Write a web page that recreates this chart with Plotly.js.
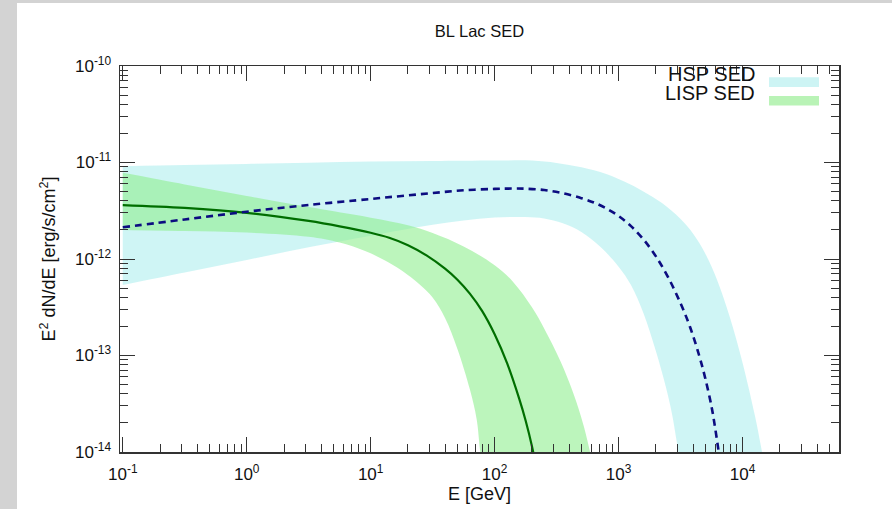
<!DOCTYPE html>
<html>
<head>
<meta charset="utf-8">
<script src="https://cdn.plot.ly/plotly-3.0.1.min.js"></script>
<style>
html, body { margin:0; padding:0; width:892px; height:509px; overflow:hidden; background:#d3d3d3; }
#chart { position:absolute; left:17px; top:3px; width:875px; height:506px; background:#ffffff; }
</style>
</head>
<body>
<div id="chart"></div>
<script>
// ---- Data (E in GeV, E^2 dN/dE in erg/s/cm^2) ----
const hspE   = [0.1, 0.316, 1, 3.16, 10, 17.8, 31.6, 56.2, 100, 141, 178, 251, 355, 501, 631, 794, 1000, 1259, 1585, 1995, 2512, 3162, 3758, 4467, 5012, 5623, 5957, 6310, 6457, 6531];
const hspSED = [2.13e-12, 2.57e-12, 3.09e-12, 3.63e-12, 4.19e-12, 4.50e-12, 4.83e-12, 5.15e-12, 5.33e-12, 5.37e-12, 5.35e-12, 5.19e-12, 4.81e-12, 4.27e-12, 3.85e-12, 3.35e-12, 2.79e-12, 2.19e-12, 1.60e-12, 1.07e-12, 6.46e-13, 3.47e-13, 2.0e-13, 1.0e-13, 5.75e-14, 2.95e-14, 1.91e-14, 1.17e-14, 9.5e-15, 8.3e-15];

const hspUpE = [0.1, 0.316, 1, 3.16, 10, 31.6, 100, 200, 316, 501, 794, 1122, 1585, 2239, 3162, 3981, 5012, 6310, 7943, 10000, 12589, 14125, 14454, 14800];
const hspUp  = [9.16e-12, 9.40e-12, 9.66e-12, 9.93e-12, 1.023e-11, 1.035e-11, 1.047e-11, 1.047e-11, 9.89e-12, 8.91e-12, 7.59e-12, 6.31e-12, 5.01e-12, 3.80e-12, 2.60e-12, 1.84e-12, 1.135e-12, 5.82e-13, 2.43e-13, 8.41e-14, 2.37e-14, 1.12e-14, 9.5e-15, 8e-15];

const hspLoE = [0.1, 0.316, 1, 3.16, 10, 17.8, 31.6, 56.2, 100, 178, 251, 355, 501, 708, 1000, 1259, 1585, 1995, 2399, 2692, 2951, 3090];
const hspLo  = [5.37e-13, 7.24e-13, 9.77e-13, 1.32e-12, 1.74e-12, 2.0e-12, 2.26e-12, 2.51e-12, 2.69e-12, 2.72e-12, 2.63e-12, 2.34e-12, 1.91e-12, 1.35e-12, 8.32e-13, 5.37e-13, 2.75e-13, 1.12e-13, 4.79e-14, 2.51e-14, 1.26e-14, 8.7e-15];

const lispE   = [0.1, 0.316, 1, 3.16, 5.62, 10, 14.1, 20, 28.2, 39.8, 50.1, 63.1, 79.4, 100, 126, 158, 178, 200, 209];
const lispSED = [3.62e-12, 3.38e-12, 3.01e-12, 2.48e-12, 2.18e-12, 1.87e-12, 1.66e-12, 1.39e-12, 1.09e-12, 7.94e-13, 6.10e-13, 4.37e-13, 2.88e-13, 1.66e-13, 8.32e-14, 3.55e-14, 2.11e-14, 1.15e-14, 8.7e-15];

const lispUpE = [0.1, 0.316, 1, 3.16, 10, 20, 31.6, 56.2, 100, 141, 200, 251, 339, 432, 519, 589, 610];
const lispUp  = [7.82e-12, 5.93e-12, 4.50e-12, 3.45e-12, 2.68e-12, 2.24e-12, 1.86e-12, 1.35e-12, 8.61e-13, 5.79e-13, 3.16e-13, 1.91e-13, 8.75e-14, 4.04e-14, 1.93e-14, 1.0e-14, 7.9e-15];

const lispLoE = [0.1, 0.316, 1, 3.16, 5.62, 8.91, 12.6, 17.8, 25.1, 31.6, 39.8, 50.1, 63.1, 71.6, 75.9, 77.6];
const lispLo  = [2.0e-12, 1.95e-12, 1.88e-12, 1.70e-12, 1.48e-12, 1.22e-12, 9.89e-13, 7.59e-13, 5.37e-13, 3.98e-13, 2.45e-13, 1.17e-13, 4.47e-14, 2.19e-14, 1.10e-14, 8.7e-15];

const seriesNames = ['HSP SED', 'LISP SED'];
const xTickVals = [0.1, 1, 10, 100, 1000, 10000];
const xTickText = ['10<sup>-1</sup>', '10<sup>0</sup>', '10<sup>1</sup>', '10<sup>2</sup>', '10<sup>3</sup>', '10<sup>4</sup>'];
const yTickVals = [1e-14, 1e-13, 1e-12, 1e-11, 1e-10];
const yTickText = ['10<sup>-14</sup>', '10<sup>-13</sup>', '10<sup>-12</sup>', '10<sup>-11</sup>', '10<sup>-10</sup>'];

// ---- Styles ----
const hspFill = 'rgba(175,238,238,0.6)';
const lispFill = 'rgba(144,238,144,0.6)';
const font = 'Liberation Sans, Arial, Helvetica, sans-serif';
const bandLine = {width: 0, shape: 'spline', smoothing: 1};

const traces = [
  {x: hspLoE, y: hspLo, type: 'scatter', mode: 'lines', line: bandLine, hoverinfo: 'skip', showlegend: false},
  {x: hspUpE, y: hspUp, type: 'scatter', mode: 'lines', line: bandLine, fill: 'tonexty', fillcolor: hspFill, name: seriesNames[0], showlegend: false},
  {x: lispLoE, y: lispLo, type: 'scatter', mode: 'lines', line: bandLine, hoverinfo: 'skip', showlegend: false},
  {x: lispUpE, y: lispUp, type: 'scatter', mode: 'lines', line: bandLine, fill: 'tonexty', fillcolor: lispFill, name: seriesNames[1], showlegend: false},
  {x: lispE, y: lispSED, type: 'scatter', mode: 'lines', line: {color: '#006e00', width: 2.2, shape: 'spline', smoothing: 1}, showlegend: false},
  {x: hspE, y: hspSED, type: 'scatter', mode: 'lines', line: {color: '#0c0c80', width: 2.6, dash: '7px,5px', shape: 'spline', smoothing: 1}, showlegend: false}
];

const axisCommon = {
  showgrid: false, zeroline: false, showline: true, linecolor: '#333', linewidth: 1.5,
  mirror: 'allticks', ticks: 'inside', ticklen: 15, tickwidth: 1, tickcolor: '#333',
  tickfont: {family: font, size: 17, color: '#111'},
  minor: {ticks: 'inside', ticklen: 8, tickwidth: 1, tickcolor: '#333', dtick: 'D1', showgrid: false}
};

const layout = {
  width: 875, height: 506,
  margin: {l: 103, r: 53, t: 63, b: 57},
  paper_bgcolor: '#ffffff', plot_bgcolor: '#ffffff',
  showlegend: false,
  title: {text: 'BL Lac SED', font: {family: font, size: 16.5, color: '#111'}, x: 0.5, xref: 'paper', y: 0.945, yref: 'container', yanchor: 'middle'},
  xaxis: Object.assign({}, axisCommon, {
    type: 'log', range: [Math.log10(0.095), Math.log10(60000)],
    tickmode: 'array', tickvals: xTickVals, ticktext: xTickText, ticklabelstandoff: 6,
    title: {text: 'E [GeV]', font: {family: font, size: 18, color: '#111'}, standoff: 0}
  }),
  yaxis: Object.assign({}, axisCommon, {
    type: 'log', range: [-14, -10],
    tickmode: 'array', tickvals: yTickVals, ticktext: yTickText, ticklabelstandoff: 4,
    title: {text: 'E<sup>2</sup> dN/dE [erg/s/cm<sup>2</sup>]', font: {family: font, size: 18, color: '#111'}, standoff: 14}
  }),
  annotations: [
    {text: seriesNames[0], xref: 'paper', yref: 'paper', x: 0.886, y: 0.980, xanchor: 'right', yanchor: 'middle', showarrow: false, font: {family: font, size: 20, color: '#111'}},
    {text: seriesNames[1], xref: 'paper', yref: 'paper', x: 0.886, y: 0.930, xanchor: 'right', yanchor: 'middle', showarrow: false, font: {family: font, size: 20, color: '#111'}}
  ],
  shapes: [
    {type: 'rect', xref: 'paper', yref: 'paper', x0: 0.9027, x1: 0.9722, y0: 0.9457, y1: 0.9708, fillcolor: '#cdf4f4', line: {width: 0}},
    {type: 'rect', xref: 'paper', yref: 'paper', x0: 0.9027, x1: 0.9722, y0: 0.8976, y1: 0.9224, fillcolor: '#b9f3b6', line: {width: 0}}
  ]
};

Plotly.newPlot('chart', traces, layout, {displayModeBar: false, staticPlot: true});
</script>
</body>
</html>
